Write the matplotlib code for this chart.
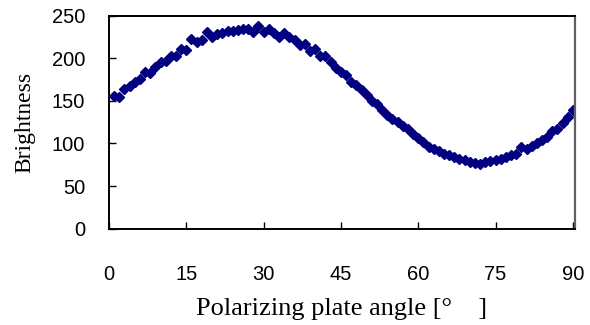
import numpy as np
import matplotlib
matplotlib.use('Agg')
import matplotlib.pyplot as plt

# polarizing plate angle [deg] and measured brightness
angle = list(range(1, 91))
brightness = [
    156, 155, 164, 167, 172, 176, 184, 183, 190, 196,
    197, 202, 203, 211, 209, 223, 219, 221, 231, 225,
    228, 230, 232, 232, 233, 234, 234, 231, 238, 231,
    234, 229, 225, 229, 225, 221, 215, 217, 208, 211,
    203, 202, 195, 188, 184, 180, 172, 168, 163, 157,
    150, 146, 139, 133, 129, 125, 121, 117, 111, 106,
    102, 96, 93, 91, 88, 86, 84, 82, 80, 78,
    77, 76, 78, 79, 80, 82, 84, 86, 88, 96,
    93, 97, 100, 104, 108, 114, 117, 124, 131, 139,
]

xticks = [0, 15, 30, 45, 60, 75, 90]
yticks = [0, 50, 100, 150, 200, 250]

fig = plt.figure(figsize=(5.9, 3.25), dpi=100)
ax = fig.add_axes([0.1847, 0.2963, 0.7898, 0.656])

ax.plot(angle, brightness, linestyle='none', marker='D', markersize=5.3,
        color='#000080', markeredgecolor='#000080')

ax.set_xlim(0, 90.4)
ax.set_ylim(0, 250)
ax.set_xticks(xticks)
ax.set_yticks(yticks)

tick_font = {'family': 'Liberation Sans', 'size': 14.5}
ax.set_xticklabels([str(t) for t in xticks], fontdict=tick_font)
ax.set_yticklabels([str(t) for t in yticks], fontdict=tick_font)
ax.tick_params(axis='both', direction='in', length=5, width=1, color='black')
ax.tick_params(axis='x', pad=26)
ax.tick_params(axis='y', pad=17)

for side in ['left', 'bottom', 'top']:
    ax.spines[side].set_linewidth(1.4)
    ax.spines[side].set_color('black')
ax.spines['right'].set_linewidth(1.6)
ax.spines['right'].set_color('#606060')

ax.set_xlabel('Polarizing plate angle [°\u3000]', family=['Liberation Serif', 'Noto Sans CJK JP'],
              fontsize=19, labelpad=10)
ax.set_ylabel('Brightness', family='Liberation Serif', fontsize=17, labelpad=12)

fig.savefig('out.png', dpi=100)
